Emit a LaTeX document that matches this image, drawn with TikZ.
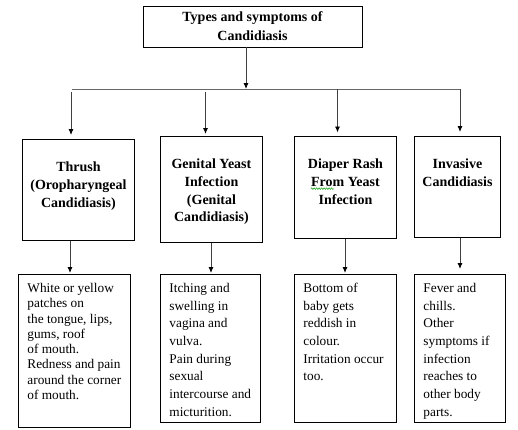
\documentclass[tikz,border=0pt]{standalone}
\usepackage{fontspec}
\setmainfont{Liberation Serif}
\usetikzlibrary{arrows.meta,decorations.pathmorphing}
\newcommand\headtext[3]{\parbox[c][#2][t]{#1}{\centering\fontsize{14}{17.6}\bfseries\selectfont\rule{0pt}{32.5pt}#3}}
\newcommand\symtext[4]{\parbox[c][#2][t]{#1}{\raggedright\leftskip=9pt\fontsize{13.3}{#3}\selectfont\rule{0pt}{18pt}#4}}
\tikzset{
  box/.style={draw=black, line width=0.9pt, inner sep=0pt, anchor=north west},
  conn/.style={draw=black!75, line width=0.9pt, -{Latex[length=6pt,width=5pt,color=black]}},
  hline/.style={draw=black!60, line width=1pt},
}
\begin{document}
\begin{tikzpicture}[x=1pt,y=-1pt]
\fill[white] (0,0) rectangle (518,429);
\useasboundingbox (0,0) rectangle (518,429);

% top box
\node[draw=black, line width=0.9pt, inner sep=0pt, minimum width=219pt, minimum height=41pt,
      align=center, font=\fontsize{14}{19}\bfseries\selectfont] (top) at (252.5,26.5)
      {Types and symptoms of\\Candidiasis};

% level 2
\node[box] (t1) at (22,139) {\headtext{112pt}{101pt}{Thrush\\(Oropharyngeal\\Candidiasis)}};
\node[box] (t2) at (160,136) {\headtext{102pt}{106pt}{Genital Yeast\\Infection\\(Genital\\Candidiasis)}};
\node[box] (t3) at (294,136) {\headtext{102pt}{102pt}{Diaper Rash\\From Yeast\\Infection}};
\node[box] (t4) at (414,136) {\headtext{86pt}{101pt}{Invasive\\Candidiasis}};

% level 3
\node[box] (s1) at (18,274) {\symtext{112pt}{153pt}{15.3}{White or yellow\\patches on\\the tongue, lips,\\gums, roof\\of mouth.\\Redness and pain\\around the corner\\of mouth.}};
\node[box] (s2) at (160,274) {\symtext{100pt}{148pt}{17.7}{Itching and\\swelling in\\vagina and\\vulva.\\Pain during\\sexual\\intercourse and\\micturition.}};
\node[box] (s3) at (294,274) {\symtext{102pt}{148pt}{17.7}{Bottom of\\baby gets\\reddish in\\colour.\\Irritation occur\\too.}};
\node[box] (s4) at (414,274) {\symtext{91pt}{148pt}{17.7}{Fever and\\chills.\\Other\\symptoms if\\infection\\reaches to\\other body\\parts.}};

% spelling squiggle under "From"
\draw[green!60!black, line width=0.5pt, decorate,
      decoration={zigzag, segment length=2.5pt, amplitude=0.8pt}] (311,188.6) -- (333.5,188.6);

% connectors
\coordinate (hub) at (246,89);
\coordinate (hl) at (72,89);
\coordinate (hr) at (460,89);
\draw[hline] (hl) -- (hr);
\draw[conn] (top.south -| hub) -- (hub);

\coordinate (b1) at (71,92);
\coordinate (b2) at (205.5,92);
\coordinate (b3) at (337.5,89);
\coordinate (b4) at (460,89);
\draw[conn, shorten >=4pt] (b1) -- (b1 |- t1.north);
\draw[conn, shorten >=2pt] (b2) -- (b2 |- t2.north);
\draw[conn, shorten >=3.5pt] (b3) -- (b3 |- t3.north);
\draw[conn, shorten >=4pt] (b4) -- (b4 |- t4.north);

\coordinate (d1) at (70,0);
\coordinate (d2) at (211,0);
\coordinate (d3) at (345,0);
\coordinate (d4) at (460,0);
\draw[conn, shorten >=1pt] (t1.south -| d1) -- (s1.north -| d1);
\draw[conn, shorten >=1pt] (t2.south -| d2) -- (s2.north -| d2);
\draw[conn, shorten >=1pt] (t3.south -| d3) -- (s3.north -| d3);
\draw[conn, shorten >=5pt] (t4.south -| d4) -- (s4.north -| d4);
\end{tikzpicture}
\end{document}
